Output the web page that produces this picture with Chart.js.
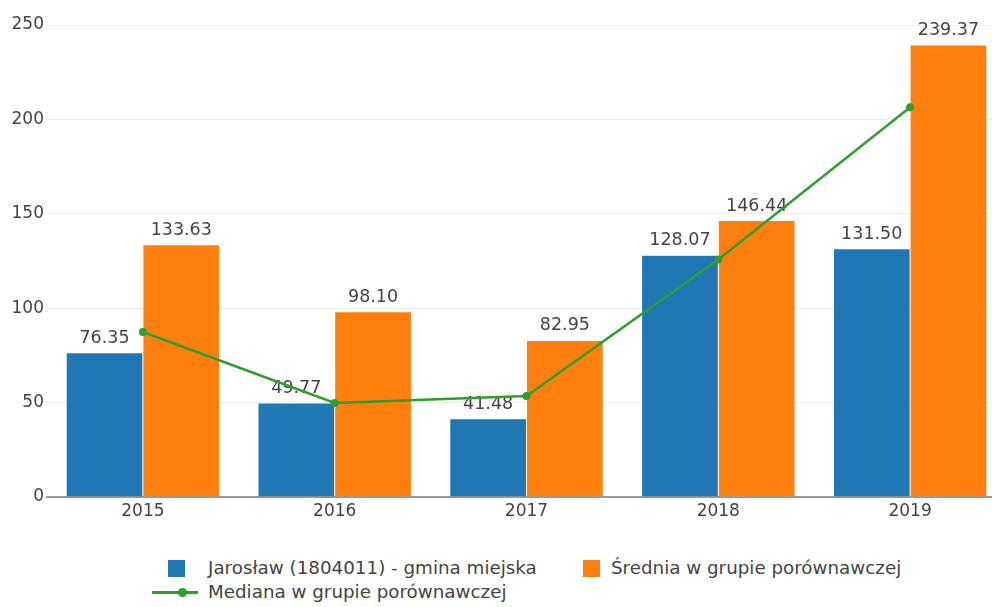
<!DOCTYPE html>
<html>
<head>
<meta charset="utf-8">
<script src="https://cdn.jsdelivr.net/npm/chart.js@4.4.1/dist/chart.umd.min.js"></script>
<style>
  html, body { margin: 0; padding: 0; background: #fff; overflow: hidden; width: 992px; height: 607px; }
  #wrap { position: absolute; left: 0; top: 0; width: 1010px; height: 530px; }
  .legend { position: absolute; font: 18.3px "DejaVu Sans", Verdana, sans-serif; color: #444; white-space: nowrap; }
  .item { position: absolute; height: 22px; line-height: 22px; }
  .box { position: absolute; width: 17px; height: 17px; }
</style>
</head>
<body>
<div id="wrap"><canvas id="chart"></canvas></div>
<div class="legend" id="legend"></div>
<script>
// Data
const years = ['2015', '2016', '2017', '2018', '2019'];
const gminaValues = [76.35, 49.77, 41.48, 128.07, 131.50];
const sredniaValues = [133.63, 98.10, 82.95, 146.44, 239.37];
const medianaValues = [87.4, 49.8, 53.5, 125.8, 206.4];
const yTicks = [0, 50, 100, 150, 200, 250];

const seriesNames = ['Jarosław (1804011) - gmina miejska', 'Średnia w grupie porównawczej', 'Mediana w grupie porównawczej'];
const colors = ['#1f77b4', '#ff7f0e', '#2ca02c'];
const FONT = '"DejaVu Sans", Verdana, sans-serif';

// value labels above the bars, drawn right after each bar dataset (line comes on top)
const barLabels = {
    id: 'barLabels',
    afterDatasetDraw(chart, args) {
        const ds = chart.data.datasets[args.index];
        if (ds.type !== 'bar') return;
        const ctx = chart.ctx;
        ctx.save();
        ctx.font = '17.5px ' + FONT;
        ctx.fillStyle = '#444';
        ctx.textAlign = 'center';
        ctx.textBaseline = 'alphabetic';
        args.meta.data.forEach((bar, i) => {
            ctx.fillText(ds.data[i].toFixed(2), bar.x, bar.y - 10);
        });
        ctx.restore();
    }
};

new Chart(document.getElementById('chart'), {
    type: 'bar',
    data: {
        labels: years,
        datasets: [
            {
                type: 'line',
                label: seriesNames[2],
                data: medianaValues,
                borderColor: colors[2],
                backgroundColor: colors[2],
                borderWidth: 2.5,
                pointRadius: 4,
                pointBorderWidth: 0,
                tension: 0,
                order: 0
            },
            {
                type: 'bar',
                label: seriesNames[0],
                data: gminaValues,
                backgroundColor: colors[0],
                borderColor: 'rgba(255,255,255,0.5)',
                borderWidth: 0.5,
                order: 1
            },
            {
                type: 'bar',
                label: seriesNames[1],
                data: sredniaValues,
                backgroundColor: colors[1],
                borderColor: 'rgba(255,255,255,0.5)',
                borderWidth: 0.5,
                order: 1
            }
        ]
    },
    options: {
        responsive: true,
        maintainAspectRatio: false,
        animation: false,
        datasets: { bar: { categoryPercentage: 0.8, barPercentage: 1.0, grouped: true } },
        layout: { padding: { top: 25, left: 0, right: 3, bottom: 0 } },
        plugins: { legend: { display: false }, tooltip: { enabled: false } },
        scales: {
            x: {
                grid: { display: false },
                border: { display: true, color: '#999', width: 2 },
                ticks: { color: '#444', font: { family: FONT, size: 17 }, padding: -4 },
                afterFit(scale) { scale.height = 33; }
            },
            y: {
                min: 0,
                max: 250,
                afterBuildTicks(scale) { scale.ticks = yTicks.map(v => ({ value: v })); },
                grid: { color: ctx => ctx.tick && ctx.tick.value === 0 ? 'rgba(0,0,0,0)' : '#eee', lineWidth: 1, drawTicks: false },
                border: { display: false },
                ticks: { color: '#444', font: { family: FONT, size: 17 }, padding: 3 },
                afterFit(scale) { scale.width = 47; }
            }
        }
    },
    plugins: [barLabels]
});

// HTML legend placed like the original
const legend = document.getElementById('legend');
legend.innerHTML =
    '<div class="box" style="left:168px;top:560px;background:' + colors[0] + '"></div>' +
    '<div class="item" style="left:208px;top:557px">' + seriesNames[0] + '</div>' +
    '<div class="box" style="left:583px;top:560px;background:' + colors[1] + '"></div>' +
    '<div class="item" style="left:611px;top:557px">' + seriesNames[1] + '</div>' +
    '<div style="position:absolute;left:152px;top:591px;width:46px;height:3px;background:' + colors[2] + '"></div>' +
    '<div style="position:absolute;left:178px;top:588px;width:9px;height:9px;border-radius:50%;background:' + colors[2] + '"></div>' +
    '<div class="item" style="left:208px;top:581px">' + seriesNames[2] + '</div>';
legend.style.left = '0px';
legend.style.top = '0px';
</script>
</body>
</html>
